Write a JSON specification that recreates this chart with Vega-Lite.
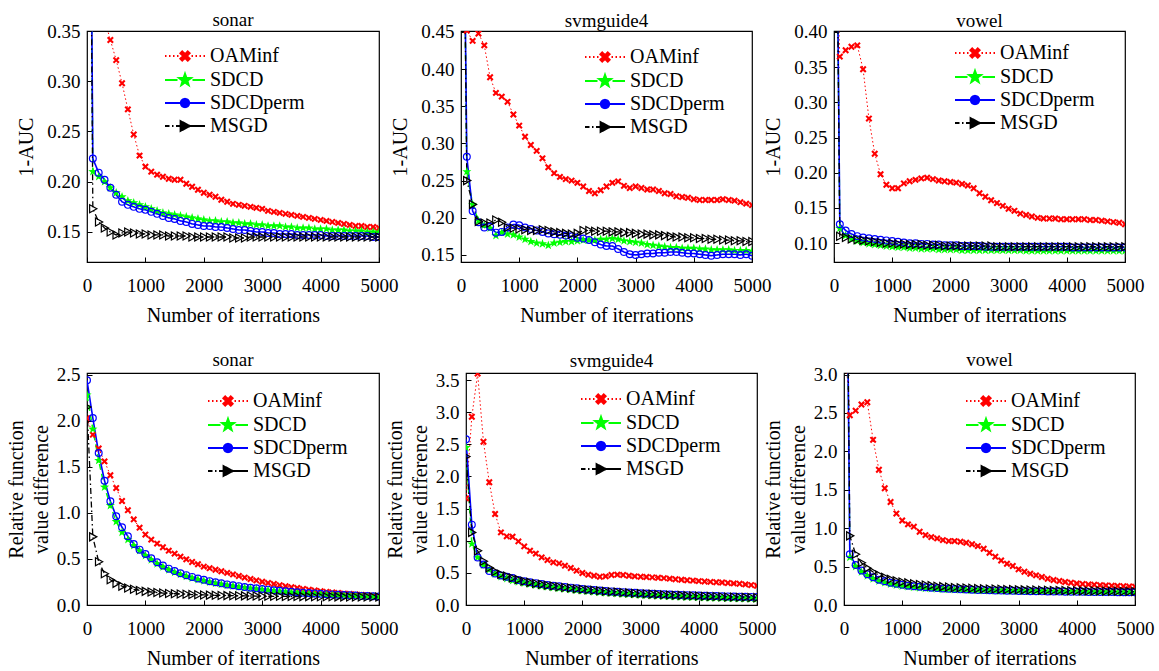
{
"$schema":"https://vega.github.io/schema/vega-lite/v6.json",
"background":"white",
"padding":{"left":0,"top":10,"right":2,"bottom":0},
"params":[
{"name":"pO","value":"M-4,0h0.3M-3.2,0h0.3M-2.4,0h0.3M-1.6,0h0.3M1.3,0h0.3M2.1,0h0.3M2.9,0h0.3M3.7,0h0.3M0,-0.4L0.55,-0.95L0.95,-0.55L0.4,0L0.95,0.55L0.55,0.95L0,0.4L-0.55,0.95L-0.95,0.55L-0.4,0L-0.95,-0.55L-0.55,-0.95Z"},
{"name":"pS","value":"M-4,0H-1.5M1.5,0H4M0,-1.3L0.306,-0.421L1.236,-0.402L0.495,0.161L0.764,1.052L0,0.52L-0.764,1.052L-0.495,0.161L-1.236,-0.402L-0.306,-0.421Z"},
{"name":"pP","value":"M-4,0H4M0.85,0A0.85,0.85 0 1,1 -0.85,0A0.85,0.85 0 1,1 0.85,0"},
{"name":"pM","value":"M-4,0H-3.1M-2.6,0H-2.3M-1.8,0H-0.9M-0.9,-1L1,0L-0.9,1ZM1,0H4"}
],
"config":{
"font":"Liberation Serif",
"style":{"guide-label":{"font":"Liberation Serif"},"guide-title":{"font":"Liberation Serif"},"group-title":{"font":"Liberation Serif"}},
"view":{"stroke":"#000","strokeWidth":1.2},
"axis":{"labelFont":"Liberation Serif","labelFontSize":19,"labelColor":"#000","titleFont":"Liberation Serif","titleFontSize":20,"titleFontWeight":"normal","titleColor":"#000","grid":false,"domain":false,"tickColor":"#000","tickSize":-5,"tickWidth":1,"labelFlush":false},
"axisX":{"labelFont":"Liberation Serif","labelPadding":19,"titlePadding":10,"format":"d"},
"axisY":{"labelFont":"Liberation Serif","labelPadding":12,"titleBaseline":"middle"},
"legend":{"labelFont":"Liberation Serif","labelFontSize":20,"labelColor":"#000","labelOffset":15,"rowPadding":3,"padding":0,"symbolSize":100,"symbolStrokeWidth":1.8},
"title":{"font":"Liberation Serif","fontSize":19,"fontWeight":"normal","color":"#000","offset":-4,"frame":"group"}
},
"datasets":{
"sonarAUC":[
{"x":0,"OAMinf":0.55,"SDCD":1,"SDCDperm":1,"MSGD":1},
{"x":100,"OAMinf":0.45,"SDCD":0.210,"SDCDperm":0.223,"MSGD":0.173},
{"x":200,"OAMinf":0.40,"SDCD":0.205,"SDCDperm":0.209,"MSGD":0.160},
{"x":300,"OAMinf":0.362,"SDCD":0.200,"SDCDperm":0.202,"MSGD":0.154},
{"x":400,"OAMinf":0.341,"SDCD":0.194,"SDCDperm":0.194,"MSGD":0.150},
{"x":500,"OAMinf":0.321,"SDCD":0.189,"SDCDperm":0.187,"MSGD":0.147},
{"x":600,"OAMinf":0.298,"SDCD":0.185,"SDCDperm":0.180,"MSGD":0.149},
{"x":700,"OAMinf":0.272,"SDCD":0.181,"SDCDperm":0.177,"MSGD":0.150},
{"x":800,"OAMinf":0.247,"SDCD":0.179,"SDCDperm":0.175,"MSGD":0.149},
{"x":900,"OAMinf":0.226,"SDCD":0.177,"SDCDperm":0.173,"MSGD":0.148},
{"x":1000,"OAMinf":0.215,"SDCD":0.175,"SDCDperm":0.172,"MSGD":0.148},
{"x":1100,"OAMinf":0.210,"SDCD":0.173,"SDCDperm":0.170,"MSGD":0.147},
{"x":1200,"OAMinf":0.207,"SDCD":0.171,"SDCDperm":0.168,"MSGD":0.147},
{"x":1300,"OAMinf":0.205,"SDCD":0.169,"SDCDperm":0.166,"MSGD":0.147},
{"x":1400,"OAMinf":0.203,"SDCD":0.168,"SDCDperm":0.164,"MSGD":0.146},
{"x":1500,"OAMinf":0.202,"SDCD":0.167,"SDCDperm":0.163,"MSGD":0.146},
{"x":1600,"OAMinf":0.202,"SDCD":0.166,"SDCDperm":0.161,"MSGD":0.146},
{"x":1700,"OAMinf":0.198,"SDCD":0.165,"SDCDperm":0.160,"MSGD":0.146},
{"x":1800,"OAMinf":0.195,"SDCD":0.164,"SDCDperm":0.158,"MSGD":0.145},
{"x":1900,"OAMinf":0.192,"SDCD":0.163,"SDCDperm":0.157,"MSGD":0.145},
{"x":2000,"OAMinf":0.189,"SDCD":0.162,"SDCDperm":0.156,"MSGD":0.145},
{"x":2100,"OAMinf":0.187,"SDCD":0.161,"SDCDperm":0.156,"MSGD":0.145},
{"x":2200,"OAMinf":0.185,"SDCD":0.161,"SDCDperm":0.155,"MSGD":0.145},
{"x":2300,"OAMinf":0.182,"SDCD":0.160,"SDCDperm":0.155,"MSGD":0.145},
{"x":2400,"OAMinf":0.180,"SDCD":0.160,"SDCDperm":0.154,"MSGD":0.145},
{"x":2500,"OAMinf":0.178,"SDCD":0.159,"SDCDperm":0.153,"MSGD":0.144},
{"x":2600,"OAMinf":0.177,"SDCD":0.159,"SDCDperm":0.152,"MSGD":0.144},
{"x":2700,"OAMinf":0.176,"SDCD":0.158,"SDCDperm":0.152,"MSGD":0.144},
{"x":2800,"OAMinf":0.175,"SDCD":0.158,"SDCDperm":0.151,"MSGD":0.145},
{"x":2900,"OAMinf":0.174,"SDCD":0.157,"SDCDperm":0.150,"MSGD":0.145},
{"x":3000,"OAMinf":0.173,"SDCD":0.157,"SDCDperm":0.150,"MSGD":0.145},
{"x":3100,"OAMinf":0.171,"SDCD":0.156,"SDCDperm":0.149,"MSGD":0.145},
{"x":3200,"OAMinf":0.170,"SDCD":0.156,"SDCDperm":0.149,"MSGD":0.145},
{"x":3300,"OAMinf":0.169,"SDCD":0.156,"SDCDperm":0.148,"MSGD":0.145},
{"x":3400,"OAMinf":0.168,"SDCD":0.155,"SDCDperm":0.148,"MSGD":0.145},
{"x":3500,"OAMinf":0.167,"SDCD":0.155,"SDCDperm":0.148,"MSGD":0.145},
{"x":3600,"OAMinf":0.166,"SDCD":0.154,"SDCDperm":0.147,"MSGD":0.145},
{"x":3700,"OAMinf":0.165,"SDCD":0.154,"SDCDperm":0.147,"MSGD":0.145},
{"x":3800,"OAMinf":0.164,"SDCD":0.154,"SDCDperm":0.147,"MSGD":0.145},
{"x":3900,"OAMinf":0.163,"SDCD":0.153,"SDCDperm":0.147,"MSGD":0.145},
{"x":4000,"OAMinf":0.162,"SDCD":0.153,"SDCDperm":0.147,"MSGD":0.145},
{"x":4100,"OAMinf":0.161,"SDCD":0.153,"SDCDperm":0.146,"MSGD":0.145},
{"x":4200,"OAMinf":0.160,"SDCD":0.152,"SDCDperm":0.146,"MSGD":0.145},
{"x":4300,"OAMinf":0.159,"SDCD":0.152,"SDCDperm":0.146,"MSGD":0.145},
{"x":4400,"OAMinf":0.158,"SDCD":0.152,"SDCDperm":0.146,"MSGD":0.145},
{"x":4500,"OAMinf":0.157,"SDCD":0.151,"SDCDperm":0.146,"MSGD":0.145},
{"x":4600,"OAMinf":0.156,"SDCD":0.151,"SDCDperm":0.146,"MSGD":0.145},
{"x":4700,"OAMinf":0.156,"SDCD":0.151,"SDCDperm":0.146,"MSGD":0.145},
{"x":4800,"OAMinf":0.155,"SDCD":0.150,"SDCDperm":0.146,"MSGD":0.145},
{"x":4900,"OAMinf":0.155,"SDCD":0.150,"SDCDperm":0.145,"MSGD":0.145},
{"x":5000,"OAMinf":0.154,"SDCD":0.150,"SDCDperm":0.145,"MSGD":0.145}
],
"svmAUC":[
{"x":0,"OAMinf":0.6,"SDCD":1,"SDCDperm":1,"MSGD":1},
{"x":100,"OAMinf":0.452,"SDCD":0.262,"SDCDperm":0.282,"MSGD":0.250},
{"x":200,"OAMinf":0.438,"SDCD":0.218,"SDCDperm":0.209,"MSGD":0.218},
{"x":300,"OAMinf":0.448,"SDCD":0.196,"SDCDperm":0.194,"MSGD":0.195},
{"x":400,"OAMinf":0.432,"SDCD":0.190,"SDCDperm":0.187,"MSGD":0.193},
{"x":500,"OAMinf":0.389,"SDCD":0.186,"SDCDperm":0.188,"MSGD":0.193},
{"x":600,"OAMinf":0.368,"SDCD":0.176,"SDCDperm":0.180,"MSGD":0.197},
{"x":700,"OAMinf":0.363,"SDCD":0.180,"SDCDperm":0.181,"MSGD":0.194},
{"x":800,"OAMinf":0.356,"SDCD":0.178,"SDCDperm":0.187,"MSGD":0.187},
{"x":900,"OAMinf":0.339,"SDCD":0.177,"SDCDperm":0.191,"MSGD":0.186},
{"x":1000,"OAMinf":0.324,"SDCD":0.174,"SDCDperm":0.190,"MSGD":0.185},
{"x":1100,"OAMinf":0.309,"SDCD":0.171,"SDCDperm":0.187,"MSGD":0.184},
{"x":1200,"OAMinf":0.298,"SDCD":0.168,"SDCDperm":0.185,"MSGD":0.183},
{"x":1300,"OAMinf":0.290,"SDCD":0.166,"SDCDperm":0.183,"MSGD":0.183},
{"x":1400,"OAMinf":0.280,"SDCD":0.165,"SDCDperm":0.181,"MSGD":0.184},
{"x":1500,"OAMinf":0.268,"SDCD":0.163,"SDCDperm":0.179,"MSGD":0.183},
{"x":1600,"OAMinf":0.260,"SDCD":0.166,"SDCDperm":0.178,"MSGD":0.181},
{"x":1700,"OAMinf":0.255,"SDCD":0.167,"SDCDperm":0.177,"MSGD":0.180},
{"x":1800,"OAMinf":0.252,"SDCD":0.168,"SDCDperm":0.176,"MSGD":0.179},
{"x":1900,"OAMinf":0.250,"SDCD":0.168,"SDCDperm":0.175,"MSGD":0.178},
{"x":2000,"OAMinf":0.247,"SDCD":0.169,"SDCDperm":0.173,"MSGD":0.179},
{"x":2100,"OAMinf":0.242,"SDCD":0.170,"SDCDperm":0.172,"MSGD":0.183},
{"x":2200,"OAMinf":0.236,"SDCD":0.170,"SDCDperm":0.170,"MSGD":0.183},
{"x":2300,"OAMinf":0.233,"SDCD":0.170,"SDCDperm":0.167,"MSGD":0.182},
{"x":2400,"OAMinf":0.237,"SDCD":0.171,"SDCDperm":0.164,"MSGD":0.182},
{"x":2500,"OAMinf":0.242,"SDCD":0.171,"SDCDperm":0.162,"MSGD":0.182},
{"x":2600,"OAMinf":0.247,"SDCD":0.172,"SDCDperm":0.162,"MSGD":0.181},
{"x":2700,"OAMinf":0.249,"SDCD":0.171,"SDCDperm":0.158,"MSGD":0.181},
{"x":2800,"OAMinf":0.243,"SDCD":0.169,"SDCDperm":0.154,"MSGD":0.180},
{"x":2900,"OAMinf":0.240,"SDCD":0.168,"SDCDperm":0.151,"MSGD":0.180},
{"x":3000,"OAMinf":0.242,"SDCD":0.167,"SDCDperm":0.150,"MSGD":0.179},
{"x":3100,"OAMinf":0.240,"SDCD":0.166,"SDCDperm":0.151,"MSGD":0.178},
{"x":3200,"OAMinf":0.238,"SDCD":0.164,"SDCDperm":0.152,"MSGD":0.178},
{"x":3300,"OAMinf":0.238,"SDCD":0.163,"SDCDperm":0.152,"MSGD":0.177},
{"x":3400,"OAMinf":0.236,"SDCD":0.162,"SDCDperm":0.153,"MSGD":0.177},
{"x":3500,"OAMinf":0.233,"SDCD":0.161,"SDCDperm":0.153,"MSGD":0.176},
{"x":3600,"OAMinf":0.232,"SDCD":0.160,"SDCDperm":0.154,"MSGD":0.175},
{"x":3700,"OAMinf":0.229,"SDCD":0.160,"SDCDperm":0.154,"MSGD":0.174},
{"x":3800,"OAMinf":0.228,"SDCD":0.159,"SDCDperm":0.153,"MSGD":0.174},
{"x":3900,"OAMinf":0.227,"SDCD":0.159,"SDCDperm":0.152,"MSGD":0.173},
{"x":4000,"OAMinf":0.225,"SDCD":0.159,"SDCDperm":0.152,"MSGD":0.173},
{"x":4100,"OAMinf":0.224,"SDCD":0.158,"SDCDperm":0.151,"MSGD":0.172},
{"x":4200,"OAMinf":0.224,"SDCD":0.158,"SDCDperm":0.150,"MSGD":0.172},
{"x":4300,"OAMinf":0.224,"SDCD":0.157,"SDCDperm":0.149,"MSGD":0.171},
{"x":4400,"OAMinf":0.224,"SDCD":0.157,"SDCDperm":0.150,"MSGD":0.171},
{"x":4500,"OAMinf":0.225,"SDCD":0.157,"SDCDperm":0.151,"MSGD":0.170},
{"x":4600,"OAMinf":0.224,"SDCD":0.157,"SDCDperm":0.151,"MSGD":0.170},
{"x":4700,"OAMinf":0.223,"SDCD":0.156,"SDCDperm":0.151,"MSGD":0.169},
{"x":4800,"OAMinf":0.221,"SDCD":0.156,"SDCDperm":0.150,"MSGD":0.169},
{"x":4900,"OAMinf":0.219,"SDCD":0.156,"SDCDperm":0.151,"MSGD":0.168},
{"x":5000,"OAMinf":0.217,"SDCD":0.155,"SDCDperm":0.149,"MSGD":0.168}
],
"vowelAUC":[
{"x":0,"OAMinf":0.6,"SDCD":1,"SDCDperm":1,"MSGD":1},
{"x":100,"OAMinf":0.365,"SDCD":0.121,"SDCDperm":0.127,"MSGD":0.110},
{"x":200,"OAMinf":0.374,"SDCD":0.111,"SDCDperm":0.118,"MSGD":0.108},
{"x":300,"OAMinf":0.379,"SDCD":0.106,"SDCDperm":0.113,"MSGD":0.106},
{"x":400,"OAMinf":0.381,"SDCD":0.103,"SDCDperm":0.110,"MSGD":0.105},
{"x":500,"OAMinf":0.347,"SDCD":0.101,"SDCDperm":0.108,"MSGD":0.104},
{"x":600,"OAMinf":0.277,"SDCD":0.099,"SDCDperm":0.107,"MSGD":0.103},
{"x":700,"OAMinf":0.227,"SDCD":0.098,"SDCDperm":0.106,"MSGD":0.102},
{"x":800,"OAMinf":0.198,"SDCD":0.097,"SDCDperm":0.105,"MSGD":0.101},
{"x":900,"OAMinf":0.183,"SDCD":0.096,"SDCDperm":0.104,"MSGD":0.100},
{"x":1000,"OAMinf":0.178,"SDCD":0.095,"SDCDperm":0.103,"MSGD":0.100},
{"x":1100,"OAMinf":0.178,"SDCD":0.094,"SDCDperm":0.102,"MSGD":0.099},
{"x":1200,"OAMinf":0.185,"SDCD":0.094,"SDCDperm":0.101,"MSGD":0.099},
{"x":1300,"OAMinf":0.188,"SDCD":0.093,"SDCDperm":0.100,"MSGD":0.098},
{"x":1400,"OAMinf":0.190,"SDCD":0.093,"SDCDperm":0.100,"MSGD":0.098},
{"x":1500,"OAMinf":0.192,"SDCD":0.092,"SDCDperm":0.099,"MSGD":0.098},
{"x":1600,"OAMinf":0.193,"SDCD":0.092,"SDCDperm":0.099,"MSGD":0.097},
{"x":1700,"OAMinf":0.191,"SDCD":0.092,"SDCDperm":0.098,"MSGD":0.097},
{"x":1800,"OAMinf":0.189,"SDCD":0.091,"SDCDperm":0.098,"MSGD":0.097},
{"x":1900,"OAMinf":0.188,"SDCD":0.091,"SDCDperm":0.097,"MSGD":0.096},
{"x":2000,"OAMinf":0.187,"SDCD":0.091,"SDCDperm":0.097,"MSGD":0.096},
{"x":2100,"OAMinf":0.186,"SDCD":0.091,"SDCDperm":0.097,"MSGD":0.096},
{"x":2200,"OAMinf":0.184,"SDCD":0.090,"SDCDperm":0.096,"MSGD":0.096},
{"x":2300,"OAMinf":0.182,"SDCD":0.090,"SDCDperm":0.096,"MSGD":0.096},
{"x":2400,"OAMinf":0.178,"SDCD":0.090,"SDCDperm":0.096,"MSGD":0.096},
{"x":2500,"OAMinf":0.171,"SDCD":0.090,"SDCDperm":0.096,"MSGD":0.096},
{"x":2600,"OAMinf":0.166,"SDCD":0.090,"SDCDperm":0.095,"MSGD":0.096},
{"x":2700,"OAMinf":0.161,"SDCD":0.090,"SDCDperm":0.095,"MSGD":0.096},
{"x":2800,"OAMinf":0.157,"SDCD":0.090,"SDCDperm":0.095,"MSGD":0.095},
{"x":2900,"OAMinf":0.153,"SDCD":0.090,"SDCDperm":0.095,"MSGD":0.095},
{"x":3000,"OAMinf":0.149,"SDCD":0.090,"SDCDperm":0.095,"MSGD":0.095},
{"x":3100,"OAMinf":0.146,"SDCD":0.090,"SDCDperm":0.095,"MSGD":0.095},
{"x":3200,"OAMinf":0.142,"SDCD":0.090,"SDCDperm":0.095,"MSGD":0.095},
{"x":3300,"OAMinf":0.140,"SDCD":0.089,"SDCDperm":0.095,"MSGD":0.095},
{"x":3400,"OAMinf":0.138,"SDCD":0.089,"SDCDperm":0.095,"MSGD":0.095},
{"x":3500,"OAMinf":0.136,"SDCD":0.089,"SDCDperm":0.095,"MSGD":0.095},
{"x":3600,"OAMinf":0.135,"SDCD":0.089,"SDCDperm":0.095,"MSGD":0.095},
{"x":3700,"OAMinf":0.135,"SDCD":0.089,"SDCDperm":0.095,"MSGD":0.095},
{"x":3800,"OAMinf":0.135,"SDCD":0.089,"SDCDperm":0.095,"MSGD":0.095},
{"x":3900,"OAMinf":0.134,"SDCD":0.089,"SDCDperm":0.095,"MSGD":0.095},
{"x":4000,"OAMinf":0.134,"SDCD":0.089,"SDCDperm":0.095,"MSGD":0.095},
{"x":4100,"OAMinf":0.134,"SDCD":0.089,"SDCDperm":0.094,"MSGD":0.095},
{"x":4200,"OAMinf":0.134,"SDCD":0.089,"SDCDperm":0.094,"MSGD":0.095},
{"x":4300,"OAMinf":0.134,"SDCD":0.089,"SDCDperm":0.094,"MSGD":0.095},
{"x":4400,"OAMinf":0.133,"SDCD":0.089,"SDCDperm":0.094,"MSGD":0.095},
{"x":4500,"OAMinf":0.133,"SDCD":0.089,"SDCDperm":0.094,"MSGD":0.095},
{"x":4600,"OAMinf":0.132,"SDCD":0.089,"SDCDperm":0.094,"MSGD":0.095},
{"x":4700,"OAMinf":0.131,"SDCD":0.089,"SDCDperm":0.094,"MSGD":0.095},
{"x":4800,"OAMinf":0.130,"SDCD":0.089,"SDCDperm":0.094,"MSGD":0.095},
{"x":4900,"OAMinf":0.129,"SDCD":0.089,"SDCDperm":0.094,"MSGD":0.095},
{"x":5000,"OAMinf":0.127,"SDCD":0.089,"SDCDperm":0.094,"MSGD":0.095}
],
"sonarRF":[
{"x":0,"OAMinf":2.03,"SDCD":2.28,"SDCDperm":2.44,"MSGD":2.15},
{"x":100,"OAMinf":1.85,"SDCD":1.91,"SDCDperm":2.03,"MSGD":0.74},
{"x":200,"OAMinf":1.70,"SDCD":1.57,"SDCDperm":1.65,"MSGD":0.47},
{"x":300,"OAMinf":1.56,"SDCD":1.28,"SDCDperm":1.35,"MSGD":0.34},
{"x":400,"OAMinf":1.41,"SDCD":1.08,"SDCDperm":1.127,"MSGD":0.275},
{"x":500,"OAMinf":1.27,"SDCD":0.906,"SDCDperm":0.964,"MSGD":0.235},
{"x":600,"OAMinf":1.13,"SDCD":0.79,"SDCDperm":0.844,"MSGD":0.205},
{"x":700,"OAMinf":1.03,"SDCD":0.71,"SDCDperm":0.746,"MSGD":0.185},
{"x":800,"OAMinf":0.93,"SDCD":0.645,"SDCDperm":0.663,"MSGD":0.170},
{"x":900,"OAMinf":0.84,"SDCD":0.59,"SDCDperm":0.601,"MSGD":0.158},
{"x":1000,"OAMinf":0.765,"SDCD":0.536,"SDCDperm":0.554,"MSGD":0.148},
{"x":1100,"OAMinf":0.71,"SDCD":0.49,"SDCDperm":0.507,"MSGD":0.141},
{"x":1200,"OAMinf":0.667,"SDCD":0.448,"SDCDperm":0.464,"MSGD":0.135},
{"x":1300,"OAMinf":0.627,"SDCD":0.413,"SDCDperm":0.428,"MSGD":0.130},
{"x":1400,"OAMinf":0.59,"SDCD":0.381,"SDCDperm":0.395,"MSGD":0.126},
{"x":1500,"OAMinf":0.558,"SDCD":0.354,"SDCDperm":0.368,"MSGD":0.122},
{"x":1600,"OAMinf":0.525,"SDCD":0.332,"SDCDperm":0.345,"MSGD":0.119},
{"x":1700,"OAMinf":0.496,"SDCD":0.311,"SDCDperm":0.324,"MSGD":0.116},
{"x":1800,"OAMinf":0.467,"SDCD":0.293,"SDCDperm":0.305,"MSGD":0.113},
{"x":1900,"OAMinf":0.442,"SDCD":0.276,"SDCDperm":0.288,"MSGD":0.111},
{"x":2000,"OAMinf":0.417,"SDCD":0.262,"SDCDperm":0.273,"MSGD":0.109},
{"x":2100,"OAMinf":0.400,"SDCD":0.248,"SDCDperm":0.259,"MSGD":0.107},
{"x":2200,"OAMinf":0.383,"SDCD":0.236,"SDCDperm":0.247,"MSGD":0.105},
{"x":2300,"OAMinf":0.366,"SDCD":0.225,"SDCDperm":0.235,"MSGD":0.104},
{"x":2400,"OAMinf":0.349,"SDCD":0.214,"SDCDperm":0.224,"MSGD":0.102},
{"x":2500,"OAMinf":0.332,"SDCD":0.205,"SDCDperm":0.214,"MSGD":0.101},
{"x":2600,"OAMinf":0.315,"SDCD":0.196,"SDCDperm":0.205,"MSGD":0.100},
{"x":2700,"OAMinf":0.298,"SDCD":0.188,"SDCDperm":0.196,"MSGD":0.099},
{"x":2800,"OAMinf":0.282,"SDCD":0.180,"SDCDperm":0.188,"MSGD":0.098},
{"x":2900,"OAMinf":0.267,"SDCD":0.173,"SDCDperm":0.181,"MSGD":0.097},
{"x":3000,"OAMinf":0.253,"SDCD":0.167,"SDCDperm":0.174,"MSGD":0.096},
{"x":3100,"OAMinf":0.240,"SDCD":0.160,"SDCDperm":0.167,"MSGD":0.095},
{"x":3200,"OAMinf":0.228,"SDCD":0.154,"SDCDperm":0.161,"MSGD":0.094},
{"x":3300,"OAMinf":0.216,"SDCD":0.149,"SDCDperm":0.155,"MSGD":0.094},
{"x":3400,"OAMinf":0.205,"SDCD":0.143,"SDCDperm":0.149,"MSGD":0.093},
{"x":3500,"OAMinf":0.194,"SDCD":0.138,"SDCDperm":0.144,"MSGD":0.092},
{"x":3600,"OAMinf":0.184,"SDCD":0.134,"SDCDperm":0.139,"MSGD":0.092},
{"x":3700,"OAMinf":0.175,"SDCD":0.129,"SDCDperm":0.134,"MSGD":0.091},
{"x":3800,"OAMinf":0.166,"SDCD":0.125,"SDCDperm":0.130,"MSGD":0.091},
{"x":3900,"OAMinf":0.158,"SDCD":0.121,"SDCDperm":0.126,"MSGD":0.090},
{"x":4000,"OAMinf":0.150,"SDCD":0.118,"SDCDperm":0.122,"MSGD":0.090},
{"x":4100,"OAMinf":0.143,"SDCD":0.114,"SDCDperm":0.118,"MSGD":0.089},
{"x":4200,"OAMinf":0.136,"SDCD":0.111,"SDCDperm":0.115,"MSGD":0.089},
{"x":4300,"OAMinf":0.130,"SDCD":0.108,"SDCDperm":0.111,"MSGD":0.088},
{"x":4400,"OAMinf":0.124,"SDCD":0.105,"SDCDperm":0.108,"MSGD":0.088},
{"x":4500,"OAMinf":0.119,"SDCD":0.102,"SDCDperm":0.105,"MSGD":0.087},
{"x":4600,"OAMinf":0.114,"SDCD":0.099,"SDCDperm":0.102,"MSGD":0.087},
{"x":4700,"OAMinf":0.109,"SDCD":0.096,"SDCDperm":0.099,"MSGD":0.087},
{"x":4800,"OAMinf":0.105,"SDCD":0.094,"SDCDperm":0.097,"MSGD":0.086},
{"x":4900,"OAMinf":0.101,"SDCD":0.091,"SDCDperm":0.094,"MSGD":0.086},
{"x":5000,"OAMinf":0.097,"SDCD":0.089,"SDCDperm":0.092,"MSGD":0.086}
],
"svmRF":[
{"x":0,"OAMinf":1.66,"SDCD":2.45,"SDCDperm":2.58,"MSGD":2.31},
{"x":100,"OAMinf":2.93,"SDCD":0.95,"SDCDperm":1.25,"MSGD":1.13},
{"x":200,"OAMinf":3.60,"SDCD":0.74,"SDCDperm":0.74,"MSGD":0.845},
{"x":300,"OAMinf":2.54,"SDCD":0.62,"SDCDperm":0.63,"MSGD":0.68},
{"x":400,"OAMinf":1.91,"SDCD":0.55,"SDCDperm":0.53,"MSGD":0.58},
{"x":500,"OAMinf":1.415,"SDCD":0.48,"SDCDperm":0.49,"MSGD":0.52},
{"x":600,"OAMinf":1.13,"SDCD":0.44,"SDCDperm":0.46,"MSGD":0.48},
{"x":700,"OAMinf":1.068,"SDCD":0.41,"SDCDperm":0.44,"MSGD":0.45},
{"x":800,"OAMinf":1.063,"SDCD":0.38,"SDCDperm":0.42,"MSGD":0.42},
{"x":900,"OAMinf":0.99,"SDCD":0.36,"SDCDperm":0.39,"MSGD":0.395},
{"x":1000,"OAMinf":0.912,"SDCD":0.34,"SDCDperm":0.37,"MSGD":0.37},
{"x":1100,"OAMinf":0.845,"SDCD":0.325,"SDCDperm":0.355,"MSGD":0.352},
{"x":1200,"OAMinf":0.80,"SDCD":0.31,"SDCDperm":0.34,"MSGD":0.336},
{"x":1300,"OAMinf":0.741,"SDCD":0.296,"SDCDperm":0.325,"MSGD":0.321},
{"x":1400,"OAMinf":0.70,"SDCD":0.283,"SDCDperm":0.31,"MSGD":0.307},
{"x":1500,"OAMinf":0.664,"SDCD":0.27,"SDCDperm":0.30,"MSGD":0.295},
{"x":1600,"OAMinf":0.648,"SDCD":0.26,"SDCDperm":0.29,"MSGD":0.284},
{"x":1700,"OAMinf":0.612,"SDCD":0.25,"SDCDperm":0.28,"MSGD":0.273},
{"x":1800,"OAMinf":0.575,"SDCD":0.24,"SDCDperm":0.27,"MSGD":0.263},
{"x":1900,"OAMinf":0.534,"SDCD":0.23,"SDCDperm":0.26,"MSGD":0.254},
{"x":2000,"OAMinf":0.498,"SDCD":0.22,"SDCDperm":0.25,"MSGD":0.245},
{"x":2100,"OAMinf":0.472,"SDCD":0.212,"SDCDperm":0.242,"MSGD":0.237},
{"x":2200,"OAMinf":0.456,"SDCD":0.204,"SDCDperm":0.234,"MSGD":0.229},
{"x":2300,"OAMinf":0.44,"SDCD":0.197,"SDCDperm":0.226,"MSGD":0.221},
{"x":2400,"OAMinf":0.446,"SDCD":0.19,"SDCDperm":0.219,"MSGD":0.214},
{"x":2500,"OAMinf":0.467,"SDCD":0.183,"SDCDperm":0.212,"MSGD":0.207},
{"x":2600,"OAMinf":0.472,"SDCD":0.177,"SDCDperm":0.206,"MSGD":0.201},
{"x":2700,"OAMinf":0.467,"SDCD":0.171,"SDCDperm":0.20,"MSGD":0.195},
{"x":2800,"OAMinf":0.456,"SDCD":0.165,"SDCDperm":0.194,"MSGD":0.189},
{"x":2900,"OAMinf":0.446,"SDCD":0.16,"SDCDperm":0.189,"MSGD":0.184},
{"x":3000,"OAMinf":0.44,"SDCD":0.155,"SDCDperm":0.184,"MSGD":0.179},
{"x":3100,"OAMinf":0.435,"SDCD":0.15,"SDCDperm":0.179,"MSGD":0.174},
{"x":3200,"OAMinf":0.43,"SDCD":0.146,"SDCDperm":0.175,"MSGD":0.169},
{"x":3300,"OAMinf":0.425,"SDCD":0.142,"SDCDperm":0.171,"MSGD":0.165},
{"x":3400,"OAMinf":0.418,"SDCD":0.138,"SDCDperm":0.167,"MSGD":0.161},
{"x":3500,"OAMinf":0.41,"SDCD":0.134,"SDCDperm":0.163,"MSGD":0.157},
{"x":3600,"OAMinf":0.40,"SDCD":0.13,"SDCDperm":0.159,"MSGD":0.153},
{"x":3700,"OAMinf":0.393,"SDCD":0.127,"SDCDperm":0.156,"MSGD":0.15},
{"x":3800,"OAMinf":0.386,"SDCD":0.124,"SDCDperm":0.153,"MSGD":0.146},
{"x":3900,"OAMinf":0.38,"SDCD":0.121,"SDCDperm":0.15,"MSGD":0.143},
{"x":4000,"OAMinf":0.372,"SDCD":0.118,"SDCDperm":0.147,"MSGD":0.14},
{"x":4100,"OAMinf":0.365,"SDCD":0.115,"SDCDperm":0.144,"MSGD":0.137},
{"x":4200,"OAMinf":0.36,"SDCD":0.112,"SDCDperm":0.141,"MSGD":0.134},
{"x":4300,"OAMinf":0.355,"SDCD":0.11,"SDCDperm":0.139,"MSGD":0.131},
{"x":4400,"OAMinf":0.35,"SDCD":0.107,"SDCDperm":0.136,"MSGD":0.129},
{"x":4500,"OAMinf":0.343,"SDCD":0.105,"SDCDperm":0.134,"MSGD":0.126},
{"x":4600,"OAMinf":0.336,"SDCD":0.103,"SDCDperm":0.132,"MSGD":0.124},
{"x":4700,"OAMinf":0.33,"SDCD":0.10,"SDCDperm":0.13,"MSGD":0.121},
{"x":4800,"OAMinf":0.32,"SDCD":0.098,"SDCDperm":0.128,"MSGD":0.119},
{"x":4900,"OAMinf":0.31,"SDCD":0.096,"SDCDperm":0.126,"MSGD":0.117},
{"x":5000,"OAMinf":0.30,"SDCD":0.094,"SDCDperm":0.124,"MSGD":0.115}
],
"vowelRF":[
{"x":0,"OAMinf":3.6,"SDCD":9,"SDCDperm":9,"MSGD":9},
{"x":100,"OAMinf":2.47,"SDCD":0.62,"SDCDperm":0.66,"MSGD":0.90},
{"x":200,"OAMinf":2.53,"SDCD":0.50,"SDCDperm":0.52,"MSGD":0.66},
{"x":300,"OAMinf":2.61,"SDCD":0.43,"SDCDperm":0.45,"MSGD":0.55},
{"x":400,"OAMinf":2.64,"SDCD":0.38,"SDCDperm":0.40,"MSGD":0.48},
{"x":500,"OAMinf":2.15,"SDCD":0.34,"SDCDperm":0.36,"MSGD":0.43},
{"x":600,"OAMinf":1.76,"SDCD":0.31,"SDCDperm":0.33,"MSGD":0.39},
{"x":700,"OAMinf":1.52,"SDCD":0.29,"SDCDperm":0.31,"MSGD":0.36},
{"x":800,"OAMinf":1.34,"SDCD":0.272,"SDCDperm":0.29,"MSGD":0.335},
{"x":900,"OAMinf":1.19,"SDCD":0.258,"SDCDperm":0.275,"MSGD":0.315},
{"x":1000,"OAMinf":1.10,"SDCD":0.247,"SDCDperm":0.262,"MSGD":0.30},
{"x":1100,"OAMinf":1.05,"SDCD":0.238,"SDCDperm":0.252,"MSGD":0.288},
{"x":1200,"OAMinf":1.02,"SDCD":0.23,"SDCDperm":0.244,"MSGD":0.277},
{"x":1300,"OAMinf":0.954,"SDCD":0.224,"SDCDperm":0.237,"MSGD":0.268},
{"x":1400,"OAMinf":0.91,"SDCD":0.218,"SDCDperm":0.231,"MSGD":0.26},
{"x":1500,"OAMinf":0.884,"SDCD":0.213,"SDCDperm":0.225,"MSGD":0.252},
{"x":1600,"OAMinf":0.867,"SDCD":0.209,"SDCDperm":0.22,"MSGD":0.245},
{"x":1700,"OAMinf":0.845,"SDCD":0.205,"SDCDperm":0.215,"MSGD":0.239},
{"x":1800,"OAMinf":0.832,"SDCD":0.202,"SDCDperm":0.211,"MSGD":0.234},
{"x":1900,"OAMinf":0.832,"SDCD":0.199,"SDCDperm":0.207,"MSGD":0.229},
{"x":2000,"OAMinf":0.824,"SDCD":0.196,"SDCDperm":0.204,"MSGD":0.225},
{"x":2100,"OAMinf":0.81,"SDCD":0.194,"SDCDperm":0.201,"MSGD":0.221},
{"x":2200,"OAMinf":0.79,"SDCD":0.192,"SDCDperm":0.198,"MSGD":0.218},
{"x":2300,"OAMinf":0.767,"SDCD":0.19,"SDCDperm":0.196,"MSGD":0.215},
{"x":2400,"OAMinf":0.733,"SDCD":0.188,"SDCDperm":0.194,"MSGD":0.212},
{"x":2500,"OAMinf":0.68,"SDCD":0.186,"SDCDperm":0.192,"MSGD":0.209},
{"x":2600,"OAMinf":0.629,"SDCD":0.185,"SDCDperm":0.19,"MSGD":0.207},
{"x":2700,"OAMinf":0.58,"SDCD":0.183,"SDCDperm":0.188,"MSGD":0.205},
{"x":2800,"OAMinf":0.537,"SDCD":0.182,"SDCDperm":0.186,"MSGD":0.203},
{"x":2900,"OAMinf":0.507,"SDCD":0.181,"SDCDperm":0.185,"MSGD":0.201},
{"x":3000,"OAMinf":0.464,"SDCD":0.18,"SDCDperm":0.183,"MSGD":0.199},
{"x":3100,"OAMinf":0.433,"SDCD":0.179,"SDCDperm":0.182,"MSGD":0.197},
{"x":3200,"OAMinf":0.407,"SDCD":0.178,"SDCDperm":0.18,"MSGD":0.196},
{"x":3300,"OAMinf":0.386,"SDCD":0.177,"SDCDperm":0.179,"MSGD":0.194},
{"x":3400,"OAMinf":0.364,"SDCD":0.176,"SDCDperm":0.178,"MSGD":0.193},
{"x":3500,"OAMinf":0.342,"SDCD":0.175,"SDCDperm":0.177,"MSGD":0.191},
{"x":3600,"OAMinf":0.325,"SDCD":0.174,"SDCDperm":0.176,"MSGD":0.19},
{"x":3700,"OAMinf":0.312,"SDCD":0.173,"SDCDperm":0.175,"MSGD":0.189},
{"x":3800,"OAMinf":0.30,"SDCD":0.172,"SDCDperm":0.174,"MSGD":0.188},
{"x":3900,"OAMinf":0.29,"SDCD":0.171,"SDCDperm":0.173,"MSGD":0.186},
{"x":4000,"OAMinf":0.28,"SDCD":0.17,"SDCDperm":0.172,"MSGD":0.185},
{"x":4100,"OAMinf":0.274,"SDCD":0.169,"SDCDperm":0.171,"MSGD":0.184},
{"x":4200,"OAMinf":0.268,"SDCD":0.168,"SDCDperm":0.17,"MSGD":0.183},
{"x":4300,"OAMinf":0.263,"SDCD":0.168,"SDCDperm":0.17,"MSGD":0.182},
{"x":4400,"OAMinf":0.258,"SDCD":0.167,"SDCDperm":0.169,"MSGD":0.181},
{"x":4500,"OAMinf":0.254,"SDCD":0.166,"SDCDperm":0.168,"MSGD":0.18},
{"x":4600,"OAMinf":0.25,"SDCD":0.166,"SDCDperm":0.168,"MSGD":0.179},
{"x":4700,"OAMinf":0.247,"SDCD":0.165,"SDCDperm":0.167,"MSGD":0.178},
{"x":4800,"OAMinf":0.244,"SDCD":0.164,"SDCDperm":0.166,"MSGD":0.177},
{"x":4900,"OAMinf":0.241,"SDCD":0.164,"SDCDperm":0.166,"MSGD":0.176},
{"x":5000,"OAMinf":0.238,"SDCD":0.163,"SDCDperm":0.165,"MSGD":0.175}
]
},
"spacing":23,
"resolve":{"scale":{"color":"independent"},"legend":{"color":"independent"}},
"vconcat":[
{"hconcat":[
{"width":292,"height":231,"title":{"text":"sonar","offset":-8},"data":{"name":"sonarAUC"},
"transform":[{"fold":["OAMinf","SDCD","SDCDperm","MSGD"],"as":["method","value"]}],
"encoding":{
"x":{"field":"x","type":"quantitative","scale":{"domain":[0,5000],"nice":false},"axis":{"labelFont":"Liberation Serif","values":[0,1000,2000,3000,4000,5000],"title":"Number of iterrations"}},
"y":{"field":"value","type":"quantitative","scale":{"domain":[0.1201,0.35],"nice":false,"zero":false},"axis":{"labelFont":"Liberation Serif","values":[0.15,0.2,0.25,0.3,0.35],"format":".2f","title":["","1-AUC"],"titleX":-76,"titleLineHeight":15}},
"color":{"field":"method","type":"nominal","scale":{"domain":["OAMinf","SDCD","SDCDperm","MSGD"],"range":["#ff0000","#00ff00","#0000ff","#000000"]},"legend":{"title":null,"labelFont":"Liberation Serif","orient":"none","legendX":88,"legendY":15,"encode":{"symbols":{"update":{"shape":{"signal":"datum.value==='OAMinf'?pO:datum.value==='SDCD'?pS:datum.value==='SDCDperm'?pP:pM"},"fill":{"signal":"datum.value==='OAMinf'?'#ff0000':datum.value==='SDCD'?'#00ff00':'transparent'"},"stroke":{"signal":"datum.value==='OAMinf'?'#ff0000':datum.value==='SDCD'?'#00ff00':datum.value==='SDCDperm'?'#0000ff':'#000000'"},"size":{"value":100},"strokeWidth":{"value":1.8},"opacity":{"value":1},"strokeDash":{"value":[1,0]}}}}}}
},
"layer":[
{"mark":{"type":"line","clip":true},"encoding":{"strokeDash":{"field":"method","type":"nominal","scale":{"domain":["OAMinf","SDCD","SDCDperm","MSGD"],"range":[[1.5,2.5],[6,4],[1,0],[6,3,1.5,3]]},"legend":null},"strokeWidth":{"field":"method","type":"nominal","scale":{"type":"ordinal","domain":["OAMinf","SDCD","SDCDperm","MSGD"],"range":[1,1.5,1.6,1.3]},"legend":null}}},
{"transform":[{"filter":{"field":"method","oneOf":["OAMinf","SDCD"]}}],"mark":{"type":"point","clip":true,"filled":true,"size":64,"opacity":1},"encoding":{"shape":{"field":"method","type":"nominal","scale":{"domain":["OAMinf","SDCD","SDCDperm","MSGD"],"range":["M0,-0.37L0.49,-0.86L0.86,-0.49L0.37,0L0.86,0.49L0.49,0.86L0,0.37L-0.49,0.86L-0.86,0.49L-0.37,0L-0.86,-0.49L-0.49,-0.86Z","M0,-1.2L0.283,-0.389L1.141,-0.371L0.457,0.148L0.706,0.971L0,0.48L-0.706,0.971L-0.457,0.148L-1.141,-0.371L-0.283,-0.389Z","M0.85,0A0.85,0.85 0 1,1 -0.85,0A0.85,0.85 0 1,1 0.85,0","M-0.8,-1L1,0L-0.8,1Z"]},"legend":null}}},
{"transform":[{"filter":{"field":"method","oneOf":["SDCDperm","MSGD"]}}],"mark":{"type":"point","clip":true,"filled":false,"size":64,"strokeWidth":1.2,"opacity":1},"encoding":{"shape":{"field":"method","type":"nominal","scale":{"domain":["OAMinf","SDCD","SDCDperm","MSGD"],"range":["M0,-0.37L0.49,-0.86L0.86,-0.49L0.37,0L0.86,0.49L0.49,0.86L0,0.37L-0.49,0.86L-0.86,0.49L-0.37,0L-0.86,-0.49L-0.49,-0.86Z","M0,-1.2L0.283,-0.389L1.141,-0.371L0.457,0.148L0.706,0.971L0,0.48L-0.706,0.971L-0.457,0.148L-1.141,-0.371L-0.283,-0.389Z","M0.85,0A0.85,0.85 0 1,1 -0.85,0A0.85,0.85 0 1,1 0.85,0","M-0.8,-1L1,0L-0.8,1Z"]},"legend":null}}}
]},
{"width":291,"height":231,"title":{"text":"svmguide4","offset":-8},"data":{"name":"svmAUC"},
"transform":[{"fold":["OAMinf","SDCD","SDCDperm","MSGD"],"as":["method","value"]}],
"encoding":{
"x":{"field":"x","type":"quantitative","scale":{"domain":[0,5000],"nice":false},"axis":{"labelFont":"Liberation Serif","values":[0,1000,2000,3000,4000,5000],"title":"Number of iterrations"}},
"y":{"field":"value","type":"quantitative","scale":{"domain":[0.1405,0.4513],"nice":false,"zero":false},"axis":{"labelFont":"Liberation Serif","values":[0.15,0.2,0.25,0.3,0.35,0.4,0.45],"format":".2f","title":["","1-AUC"],"titleX":-76,"titleLineHeight":15}},
"color":{"field":"method","type":"nominal","scale":{"domain":["OAMinf","SDCD","SDCDperm","MSGD"],"range":["#ff0000","#00ff00","#0000ff","#000000"]},"legend":{"title":null,"labelFont":"Liberation Serif","orient":"none","legendX":134,"legendY":16,"encode":{"symbols":{"update":{"shape":{"signal":"datum.value==='OAMinf'?pO:datum.value==='SDCD'?pS:datum.value==='SDCDperm'?pP:pM"},"fill":{"signal":"datum.value==='OAMinf'?'#ff0000':datum.value==='SDCD'?'#00ff00':'transparent'"},"stroke":{"signal":"datum.value==='OAMinf'?'#ff0000':datum.value==='SDCD'?'#00ff00':datum.value==='SDCDperm'?'#0000ff':'#000000'"},"size":{"value":100},"strokeWidth":{"value":1.8},"opacity":{"value":1},"strokeDash":{"value":[1,0]}}}}}}
},
"layer":[
{"mark":{"type":"line","clip":true},"encoding":{"strokeDash":{"field":"method","type":"nominal","scale":{"domain":["OAMinf","SDCD","SDCDperm","MSGD"],"range":[[1.5,2.5],[6,4],[1,0],[6,3,1.5,3]]},"legend":null},"strokeWidth":{"field":"method","type":"nominal","scale":{"type":"ordinal","domain":["OAMinf","SDCD","SDCDperm","MSGD"],"range":[1,1.5,1.6,1.3]},"legend":null}}},
{"transform":[{"filter":{"field":"method","oneOf":["OAMinf","SDCD"]}}],"mark":{"type":"point","clip":true,"filled":true,"size":64,"opacity":1},"encoding":{"shape":{"field":"method","type":"nominal","scale":{"domain":["OAMinf","SDCD","SDCDperm","MSGD"],"range":["M0,-0.37L0.49,-0.86L0.86,-0.49L0.37,0L0.86,0.49L0.49,0.86L0,0.37L-0.49,0.86L-0.86,0.49L-0.37,0L-0.86,-0.49L-0.49,-0.86Z","M0,-1.2L0.283,-0.389L1.141,-0.371L0.457,0.148L0.706,0.971L0,0.48L-0.706,0.971L-0.457,0.148L-1.141,-0.371L-0.283,-0.389Z","M0.85,0A0.85,0.85 0 1,1 -0.85,0A0.85,0.85 0 1,1 0.85,0","M-0.8,-1L1,0L-0.8,1Z"]},"legend":null}}},
{"transform":[{"filter":{"field":"method","oneOf":["SDCDperm","MSGD"]}}],"mark":{"type":"point","clip":true,"filled":false,"size":64,"strokeWidth":1.2,"opacity":1},"encoding":{"shape":{"field":"method","type":"nominal","scale":{"domain":["OAMinf","SDCD","SDCDperm","MSGD"],"range":["M0,-0.37L0.49,-0.86L0.86,-0.49L0.37,0L0.86,0.49L0.49,0.86L0,0.37L-0.49,0.86L-0.86,0.49L-0.37,0L-0.86,-0.49L-0.49,-0.86Z","M0,-1.2L0.283,-0.389L1.141,-0.371L0.457,0.148L0.706,0.971L0,0.48L-0.706,0.971L-0.457,0.148L-1.141,-0.371L-0.283,-0.389Z","M0.85,0A0.85,0.85 0 1,1 -0.85,0A0.85,0.85 0 1,1 0.85,0","M-0.8,-1L1,0L-0.8,1Z"]},"legend":null}}}
]},
{"width":291,"height":231,"title":{"text":"vowel","offset":-8},"data":{"name":"vowelAUC"},
"transform":[{"fold":["OAMinf","SDCD","SDCDperm","MSGD"],"as":["method","value"]}],
"encoding":{
"x":{"field":"x","type":"quantitative","scale":{"domain":[0,5000],"nice":false},"axis":{"labelFont":"Liberation Serif","values":[0,1000,2000,3000,4000,5000],"title":"Number of iterrations"}},
"y":{"field":"value","type":"quantitative","scale":{"domain":[0.0733,0.4014],"nice":false,"zero":false},"axis":{"labelFont":"Liberation Serif","values":[0.1,0.15,0.2,0.25,0.3,0.35,0.4],"format":".2f","title":["","1-AUC"],"titleX":-76,"titleLineHeight":15}},
"color":{"field":"method","type":"nominal","scale":{"domain":["OAMinf","SDCD","SDCDperm","MSGD"],"range":["#ff0000","#00ff00","#0000ff","#000000"]},"legend":{"title":null,"labelFont":"Liberation Serif","orient":"none","legendX":131,"legendY":12,"encode":{"symbols":{"update":{"shape":{"signal":"datum.value==='OAMinf'?pO:datum.value==='SDCD'?pS:datum.value==='SDCDperm'?pP:pM"},"fill":{"signal":"datum.value==='OAMinf'?'#ff0000':datum.value==='SDCD'?'#00ff00':'transparent'"},"stroke":{"signal":"datum.value==='OAMinf'?'#ff0000':datum.value==='SDCD'?'#00ff00':datum.value==='SDCDperm'?'#0000ff':'#000000'"},"size":{"value":100},"strokeWidth":{"value":1.8},"opacity":{"value":1},"strokeDash":{"value":[1,0]}}}}}}
},
"layer":[
{"mark":{"type":"line","clip":true},"encoding":{"strokeDash":{"field":"method","type":"nominal","scale":{"domain":["OAMinf","SDCD","SDCDperm","MSGD"],"range":[[1.5,2.5],[6,4],[1,0],[6,3,1.5,3]]},"legend":null},"strokeWidth":{"field":"method","type":"nominal","scale":{"type":"ordinal","domain":["OAMinf","SDCD","SDCDperm","MSGD"],"range":[1,1.5,1.6,1.3]},"legend":null}}},
{"transform":[{"filter":{"field":"method","oneOf":["OAMinf","SDCD"]}}],"mark":{"type":"point","clip":true,"filled":true,"size":64,"opacity":1},"encoding":{"shape":{"field":"method","type":"nominal","scale":{"domain":["OAMinf","SDCD","SDCDperm","MSGD"],"range":["M0,-0.37L0.49,-0.86L0.86,-0.49L0.37,0L0.86,0.49L0.49,0.86L0,0.37L-0.49,0.86L-0.86,0.49L-0.37,0L-0.86,-0.49L-0.49,-0.86Z","M0,-1.2L0.283,-0.389L1.141,-0.371L0.457,0.148L0.706,0.971L0,0.48L-0.706,0.971L-0.457,0.148L-1.141,-0.371L-0.283,-0.389Z","M0.85,0A0.85,0.85 0 1,1 -0.85,0A0.85,0.85 0 1,1 0.85,0","M-0.8,-1L1,0L-0.8,1Z"]},"legend":null}}},
{"transform":[{"filter":{"field":"method","oneOf":["SDCDperm","MSGD"]}}],"mark":{"type":"point","clip":true,"filled":false,"size":64,"strokeWidth":1.2,"opacity":1},"encoding":{"shape":{"field":"method","type":"nominal","scale":{"domain":["OAMinf","SDCD","SDCDperm","MSGD"],"range":["M0,-0.37L0.49,-0.86L0.86,-0.49L0.37,0L0.86,0.49L0.49,0.86L0,0.37L-0.49,0.86L-0.86,0.49L-0.37,0L-0.86,-0.49L-0.49,-0.86Z","M0,-1.2L0.283,-0.389L1.141,-0.371L0.457,0.148L0.706,0.971L0,0.48L-0.706,0.971L-0.457,0.148L-1.141,-0.371L-0.283,-0.389Z","M0.85,0A0.85,0.85 0 1,1 -0.85,0A0.85,0.85 0 1,1 0.85,0","M-0.8,-1L1,0L-0.8,1Z"]},"legend":null}}}
]}
],"spacing":82,"bounds":"flush","resolve":{"scale":{"color":"independent"},"legend":{"color":"independent"}}},
{"hconcat":[
{"width":292,"height":232,"title":"sonar","data":{"name":"sonarRF"},
"transform":[{"fold":["OAMinf","SDCD","SDCDperm","MSGD"],"as":["method","value"]}],
"encoding":{
"x":{"field":"x","type":"quantitative","scale":{"domain":[0,5000],"nice":false},"axis":{"labelFont":"Liberation Serif","values":[0,1000,2000,3000,4000,5000],"title":"Number of iterrations"}},
"y":{"field":"value","type":"quantitative","scale":{"domain":[0,2.52],"nice":false,"zero":false},"axis":{"labelFont":"Liberation Serif","values":[0,0.5,1,1.5,2,2.5],"format":".1f","title":["Relative function","value difference"],"titleX":-71,"titleLineHeight":25}},
"color":{"field":"method","type":"nominal","scale":{"domain":["OAMinf","SDCD","SDCDperm","MSGD"],"range":["#ff0000","#00ff00","#0000ff","#000000"]},"legend":{"title":null,"labelFont":"Liberation Serif","orient":"none","legendX":131,"legendY":18,"encode":{"symbols":{"update":{"shape":{"signal":"datum.value==='OAMinf'?pO:datum.value==='SDCD'?pS:datum.value==='SDCDperm'?pP:pM"},"fill":{"signal":"datum.value==='OAMinf'?'#ff0000':datum.value==='SDCD'?'#00ff00':'transparent'"},"stroke":{"signal":"datum.value==='OAMinf'?'#ff0000':datum.value==='SDCD'?'#00ff00':datum.value==='SDCDperm'?'#0000ff':'#000000'"},"size":{"value":100},"strokeWidth":{"value":1.8},"opacity":{"value":1},"strokeDash":{"value":[1,0]}}}}}}
},
"layer":[
{"mark":{"type":"line","clip":true},"encoding":{"strokeDash":{"field":"method","type":"nominal","scale":{"domain":["OAMinf","SDCD","SDCDperm","MSGD"],"range":[[1.5,2.5],[6,4],[1,0],[6,3,1.5,3]]},"legend":null},"strokeWidth":{"field":"method","type":"nominal","scale":{"type":"ordinal","domain":["OAMinf","SDCD","SDCDperm","MSGD"],"range":[1,1.5,1.6,1.3]},"legend":null}}},
{"transform":[{"filter":{"field":"method","oneOf":["OAMinf","SDCD"]}}],"mark":{"type":"point","clip":true,"filled":true,"size":64,"opacity":1},"encoding":{"shape":{"field":"method","type":"nominal","scale":{"domain":["OAMinf","SDCD","SDCDperm","MSGD"],"range":["M0,-0.37L0.49,-0.86L0.86,-0.49L0.37,0L0.86,0.49L0.49,0.86L0,0.37L-0.49,0.86L-0.86,0.49L-0.37,0L-0.86,-0.49L-0.49,-0.86Z","M0,-1.2L0.283,-0.389L1.141,-0.371L0.457,0.148L0.706,0.971L0,0.48L-0.706,0.971L-0.457,0.148L-1.141,-0.371L-0.283,-0.389Z","M0.85,0A0.85,0.85 0 1,1 -0.85,0A0.85,0.85 0 1,1 0.85,0","M-0.8,-1L1,0L-0.8,1Z"]},"legend":null}}},
{"transform":[{"filter":{"field":"method","oneOf":["SDCDperm","MSGD"]}}],"mark":{"type":"point","clip":true,"filled":false,"size":64,"strokeWidth":1.2,"opacity":1},"encoding":{"shape":{"field":"method","type":"nominal","scale":{"domain":["OAMinf","SDCD","SDCDperm","MSGD"],"range":["M0,-0.37L0.49,-0.86L0.86,-0.49L0.37,0L0.86,0.49L0.49,0.86L0,0.37L-0.49,0.86L-0.86,0.49L-0.37,0L-0.86,-0.49L-0.49,-0.86Z","M0,-1.2L0.283,-0.389L1.141,-0.371L0.457,0.148L0.706,0.971L0,0.48L-0.706,0.971L-0.457,0.148L-1.141,-0.371L-0.283,-0.389Z","M0.85,0A0.85,0.85 0 1,1 -0.85,0A0.85,0.85 0 1,1 0.85,0","M-0.8,-1L1,0L-0.8,1Z"]},"legend":null}}}
]},
{"width":291,"height":232,"title":{"text":"svmguide4","offset":0},"data":{"name":"svmRF"},
"transform":[{"fold":["OAMinf","SDCD","SDCDperm","MSGD"],"as":["method","value"]}],
"encoding":{
"x":{"field":"x","type":"quantitative","scale":{"domain":[0,5000],"nice":false},"axis":{"labelFont":"Liberation Serif","values":[0,1000,2000,3000,4000,5000],"title":"Number of iterrations"}},
"y":{"field":"value","type":"quantitative","scale":{"domain":[0,3.61],"nice":false,"zero":false},"axis":{"labelFont":"Liberation Serif","values":[0,0.5,1,1.5,2,2.5,3,3.5],"format":".1f","title":["Relative function","value difference"],"titleX":-71,"titleLineHeight":25}},
"color":{"field":"method","type":"nominal","scale":{"domain":["OAMinf","SDCD","SDCDperm","MSGD"],"range":["#ff0000","#00ff00","#0000ff","#000000"]},"legend":{"title":null,"labelFont":"Liberation Serif","orient":"none","legendX":125,"legendY":16,"encode":{"symbols":{"update":{"shape":{"signal":"datum.value==='OAMinf'?pO:datum.value==='SDCD'?pS:datum.value==='SDCDperm'?pP:pM"},"fill":{"signal":"datum.value==='OAMinf'?'#ff0000':datum.value==='SDCD'?'#00ff00':'transparent'"},"stroke":{"signal":"datum.value==='OAMinf'?'#ff0000':datum.value==='SDCD'?'#00ff00':datum.value==='SDCDperm'?'#0000ff':'#000000'"},"size":{"value":100},"strokeWidth":{"value":1.8},"opacity":{"value":1},"strokeDash":{"value":[1,0]}}}}}}
},
"layer":[
{"mark":{"type":"line","clip":true},"encoding":{"strokeDash":{"field":"method","type":"nominal","scale":{"domain":["OAMinf","SDCD","SDCDperm","MSGD"],"range":[[1.5,2.5],[6,4],[1,0],[6,3,1.5,3]]},"legend":null},"strokeWidth":{"field":"method","type":"nominal","scale":{"type":"ordinal","domain":["OAMinf","SDCD","SDCDperm","MSGD"],"range":[1,1.5,1.6,1.3]},"legend":null}}},
{"transform":[{"filter":{"field":"method","oneOf":["OAMinf","SDCD"]}}],"mark":{"type":"point","clip":true,"filled":true,"size":64,"opacity":1},"encoding":{"shape":{"field":"method","type":"nominal","scale":{"domain":["OAMinf","SDCD","SDCDperm","MSGD"],"range":["M0,-0.37L0.49,-0.86L0.86,-0.49L0.37,0L0.86,0.49L0.49,0.86L0,0.37L-0.49,0.86L-0.86,0.49L-0.37,0L-0.86,-0.49L-0.49,-0.86Z","M0,-1.2L0.283,-0.389L1.141,-0.371L0.457,0.148L0.706,0.971L0,0.48L-0.706,0.971L-0.457,0.148L-1.141,-0.371L-0.283,-0.389Z","M0.85,0A0.85,0.85 0 1,1 -0.85,0A0.85,0.85 0 1,1 0.85,0","M-0.8,-1L1,0L-0.8,1Z"]},"legend":null}}},
{"transform":[{"filter":{"field":"method","oneOf":["SDCDperm","MSGD"]}}],"mark":{"type":"point","clip":true,"filled":false,"size":64,"strokeWidth":1.2,"opacity":1},"encoding":{"shape":{"field":"method","type":"nominal","scale":{"domain":["OAMinf","SDCD","SDCDperm","MSGD"],"range":["M0,-0.37L0.49,-0.86L0.86,-0.49L0.37,0L0.86,0.49L0.49,0.86L0,0.37L-0.49,0.86L-0.86,0.49L-0.37,0L-0.86,-0.49L-0.49,-0.86Z","M0,-1.2L0.283,-0.389L1.141,-0.371L0.457,0.148L0.706,0.971L0,0.48L-0.706,0.971L-0.457,0.148L-1.141,-0.371L-0.283,-0.389Z","M0.85,0A0.85,0.85 0 1,1 -0.85,0A0.85,0.85 0 1,1 0.85,0","M-0.8,-1L1,0L-0.8,1Z"]},"legend":null}}}
]},
{"width":291,"height":232,"title":"vowel","data":{"name":"vowelRF"},
"transform":[{"fold":["OAMinf","SDCD","SDCDperm","MSGD"],"as":["method","value"]}],
"encoding":{
"x":{"field":"x","type":"quantitative","scale":{"domain":[0,5000],"nice":false},"axis":{"labelFont":"Liberation Serif","values":[0,1000,2000,3000,4000,5000],"title":"Number of iterrations"}},
"y":{"field":"value","type":"quantitative","scale":{"domain":[0,3.02],"nice":false,"zero":false},"axis":{"labelFont":"Liberation Serif","values":[0,0.5,1,1.5,2,2.5,3],"format":".1f","title":["Relative function","value difference"],"titleX":-71,"titleLineHeight":25}},
"color":{"field":"method","type":"nominal","scale":{"domain":["OAMinf","SDCD","SDCDperm","MSGD"],"range":["#ff0000","#00ff00","#0000ff","#000000"]},"legend":{"title":null,"labelFont":"Liberation Serif","orient":"none","legendX":132,"legendY":18,"encode":{"symbols":{"update":{"shape":{"signal":"datum.value==='OAMinf'?pO:datum.value==='SDCD'?pS:datum.value==='SDCDperm'?pP:pM"},"fill":{"signal":"datum.value==='OAMinf'?'#ff0000':datum.value==='SDCD'?'#00ff00':'transparent'"},"stroke":{"signal":"datum.value==='OAMinf'?'#ff0000':datum.value==='SDCD'?'#00ff00':datum.value==='SDCDperm'?'#0000ff':'#000000'"},"size":{"value":100},"strokeWidth":{"value":1.8},"opacity":{"value":1},"strokeDash":{"value":[1,0]}}}}}}
},
"layer":[
{"mark":{"type":"line","clip":true},"encoding":{"strokeDash":{"field":"method","type":"nominal","scale":{"domain":["OAMinf","SDCD","SDCDperm","MSGD"],"range":[[1.5,2.5],[6,4],[1,0],[6,3,1.5,3]]},"legend":null},"strokeWidth":{"field":"method","type":"nominal","scale":{"type":"ordinal","domain":["OAMinf","SDCD","SDCDperm","MSGD"],"range":[1,1.5,1.6,1.3]},"legend":null}}},
{"transform":[{"filter":{"field":"method","oneOf":["OAMinf","SDCD"]}}],"mark":{"type":"point","clip":true,"filled":true,"size":64,"opacity":1},"encoding":{"shape":{"field":"method","type":"nominal","scale":{"domain":["OAMinf","SDCD","SDCDperm","MSGD"],"range":["M0,-0.37L0.49,-0.86L0.86,-0.49L0.37,0L0.86,0.49L0.49,0.86L0,0.37L-0.49,0.86L-0.86,0.49L-0.37,0L-0.86,-0.49L-0.49,-0.86Z","M0,-1.2L0.283,-0.389L1.141,-0.371L0.457,0.148L0.706,0.971L0,0.48L-0.706,0.971L-0.457,0.148L-1.141,-0.371L-0.283,-0.389Z","M0.85,0A0.85,0.85 0 1,1 -0.85,0A0.85,0.85 0 1,1 0.85,0","M-0.8,-1L1,0L-0.8,1Z"]},"legend":null}}},
{"transform":[{"filter":{"field":"method","oneOf":["SDCDperm","MSGD"]}}],"mark":{"type":"point","clip":true,"filled":false,"size":64,"strokeWidth":1.2,"opacity":1},"encoding":{"shape":{"field":"method","type":"nominal","scale":{"domain":["OAMinf","SDCD","SDCDperm","MSGD"],"range":["M0,-0.37L0.49,-0.86L0.86,-0.49L0.37,0L0.86,0.49L0.49,0.86L0,0.37L-0.49,0.86L-0.86,0.49L-0.37,0L-0.86,-0.49L-0.49,-0.86Z","M0,-1.2L0.283,-0.389L1.141,-0.371L0.457,0.148L0.706,0.971L0,0.48L-0.706,0.971L-0.457,0.148L-1.141,-0.371L-0.283,-0.389Z","M0.85,0A0.85,0.85 0 1,1 -0.85,0A0.85,0.85 0 1,1 0.85,0","M-0.8,-1L1,0L-0.8,1Z"]},"legend":null}}}
]}
],"spacing":87,"bounds":"flush","resolve":{"scale":{"color":"independent"},"legend":{"color":"independent"}}}
]
}
